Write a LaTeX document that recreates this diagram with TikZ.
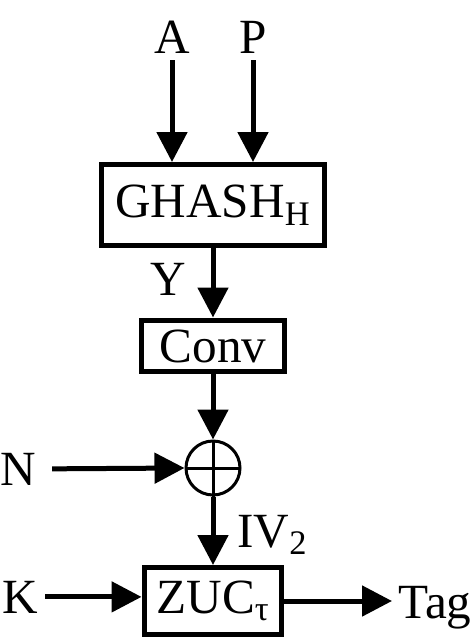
\documentclass[tikz,border=0pt]{standalone}
\usepackage{fontspec}
\setmainfont{Liberation Serif}
\usetikzlibrary{arrows.meta, positioning}

\begin{document}
\begin{tikzpicture}[x=0.02cm, y=-0.02cm,
    blockbox/.style={rectangle, draw=black, line width=0.1cm,
        inner sep=0pt, font=\fontsize{28}{32}\selectfont},
    xorbox/.style={circle, draw=black, line width=0.06cm,
        minimum size=1.08cm, inner sep=0pt},
    lbl/.style={inner sep=0.14cm, anchor=base,
        font=\fontsize{28}{32}\selectfont},
    arrow/.style={-{Triangle[length=0.6cm, width=0.6cm]},
        line width=0.1cm}
]
\useasboundingbox (0,0) rectangle (476,639);
% main vertical chain
\node[blockbox, minimum width=4.46cm, minimum height=1.62cm] (ghash)
    at (213,205) {GHASH\textsubscript{H}};
\node[blockbox, minimum width=2.86cm, minimum height=1.04cm] (conv)
    at (213,346) {Conv};
\node[xorbox] (xor) at (213,468) {};
\draw[line width=0.06cm] (xor.north) -- (xor.south)
                         (xor.west) -- (xor.east);
\node[blockbox, minimum width=2.76cm, minimum height=1.34cm] (zuc)
    at (213,601) {ZUC\textsubscript{τ}};
% inputs and outputs
\node[lbl] (a) at (172,53) {A};
\node[lbl] (p) at (253,53) {P};
\node[lbl] (y) at (168,295) {Y};
\node[lbl] (n) at (18,485) {N};
\node[lbl, anchor=base west, inner sep=0pt] (iv) at (237,547)
    {IV\textsubscript{2}};
\node[lbl] (k) at (20,613) {K};
\node[lbl, anchor=base west, inner sep=0pt] (tag) at (398,618) {Tag};
% arrows
\draw[arrow] (a.south) -- (a.south |- ghash.north);
\draw[arrow] (p.south) -- (p.south |- ghash.north);
\draw[arrow] (ghash) -- (conv);
\draw[arrow] (conv) -- (xor);
\draw[arrow, shorten <=0.18cm] (n.east) -- (xor.west);
\draw[arrow] (xor) -- (zuc);
\draw[arrow] (k.east) -- (k.east -| zuc.west);
\draw[arrow, shorten >=0.12cm] (zuc.east) -- (zuc.east -| tag.west);
\end{tikzpicture}
\end{document}
